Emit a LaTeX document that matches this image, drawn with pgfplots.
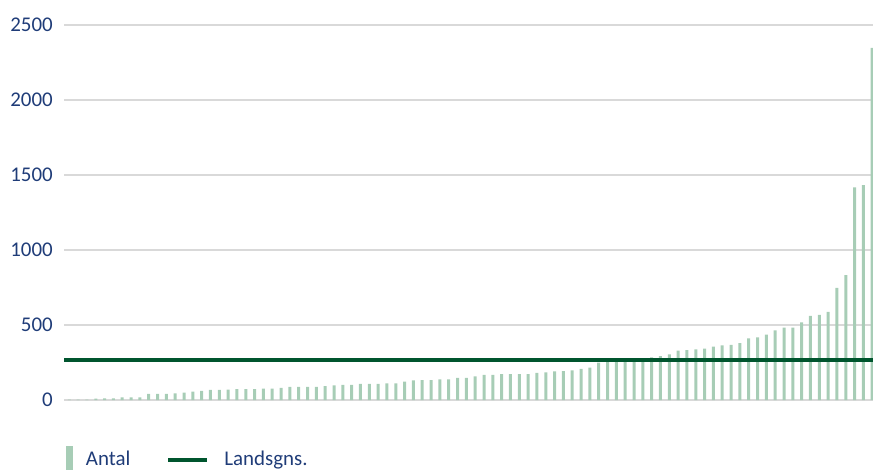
\documentclass[border=0pt]{standalone}
\usepackage{pgfplots}
\pgfplotsset{compat=1.18}
\usepackage{fontspec}
\setmainfont{Carlito}
\definecolor{barcol}{HTML}{A7CDB6}
\definecolor{linecol}{HTML}{00552E}
\definecolor{txtcol}{HTML}{1F3C78}
\definecolor{gridcol}{HTML}{D9D9D9}

\pgfplotstableread{
x y
1 3
2 3
3 3
4 9
5 11
6 11
7 18
8 18
9 18
10 40
11 40
12 40
13 44
14 49
15 56
16 60
17 67
18 67
19 69
20 73
21 73
22 73
23 76
24 76
25 80
26 87
27 87
28 87
29 87
30 93
31 97
32 100
33 100
34 107
35 107
36 107
37 111
38 111
39 122
40 131
41 133
42 133
43 138
44 138
45 147
46 147
47 158
48 167
49 167
50 173
51 173
52 173
53 173
54 180
55 184
56 191
57 193
58 198
59 207
60 216
61 249
62 258
63 263
64 270
65 276
66 278
67 284
68 293
69 304
70 329
71 333
72 338
73 343
74 355
75 364
76 368
77 379
78 411
79 418
80 436
81 464
82 482
83 482
84 518
85 560
86 567
87 587
88 747
89 833
90 1418
91 1433
92 2347
}\antal

\begin{document}
\fontsize{21}{25}\selectfont
\begin{tikzpicture}
\path[use as bounding box] (0,0) rectangle (873bp,470bp);
\begin{axis}[
  at={(64bp,70bp)}, anchor=south west,
  scale only axis, width=810bp, height=375bp,
  xmin=0.4, xmax=92.2, ymin=0, ymax=2500,
  axis line style={draw=none},
  xtick=\empty,
  ytick={0,500,...,2500},
  major tick length=0pt,
  ymajorgrids, grid style={gridcol, line width=1.8bp},
  yticklabel style={/pgf/number format/assume math mode=true,
    /pgf/number format/1000 sep={}, text=txtcol, anchor=east,
    inner sep=0pt, xshift=-11bp, font=\fontsize{21}{25}\selectfont},
  clip=false,
  legend columns=2,
  legend style={draw=none, fill=none, at={(0,0)}, anchor=west,
    xshift=1.7bp, yshift=-60bp, inner sep=0pt,
    nodes={inner xsep=0pt, inner ysep=2pt, text=txtcol,
      font=\fontsize{21}{25}\selectfont},
    /tikz/every even column/.append style={column sep=36bp}},
]
\addplot[ybar, bar width=3bp, fill=barcol, draw=none,
  legend image code/.code={\fill[barcol] (0bp,-14bp) rectangle (7bp,14bp);
    \path (20bp,0bp);}]
  table[x=x, y=y] {\antal};
\addlegendentry{Antal}
\addplot[linecol, line width=4bp, sharp plot, mark=none,
  legend image code/.code={\draw[linecol, line width=4bp] (0bp,0bp) -- (39bp,0bp);
    \path (54bp,0bp);}]
  coordinates {(0.45,268) (92.2,268)};
\addlegendentry{Landsgns.}
\end{axis}
\end{tikzpicture}
\end{document}
